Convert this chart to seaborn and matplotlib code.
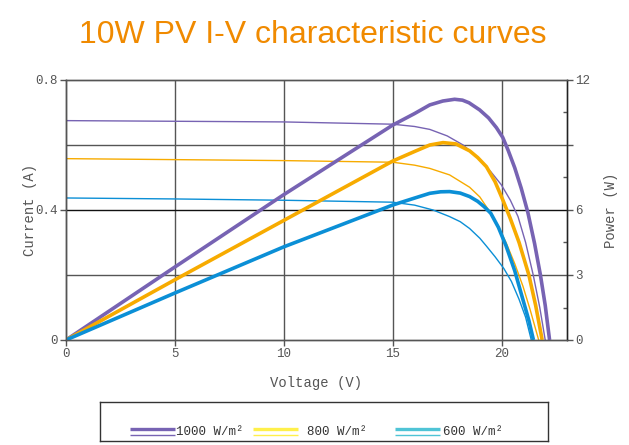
import matplotlib
matplotlib.use("Agg")
import matplotlib.pyplot as plt
import numpy as np
import pandas as pd
import seaborn as sns

# I-V curves (current, A)
v_iv_1000 = [0, 5, 10, 15, 16, 16.7, 17.5, 18.23, 18.99, 19.5, 19.98, 20.4, 20.75, 21.1, 21.45, 21.75, 22.0]
i_1000 = [0.675, 0.673, 0.671, 0.664, 0.657, 0.648, 0.628, 0.600, 0.556, 0.518, 0.478, 0.43, 0.38, 0.30, 0.20, 0.10, 0.0]

v_iv_800 = [0, 5, 10, 15, 16, 16.7, 17.61, 18.53, 19.0, 19.4, 19.8, 20.2, 20.6, 20.98, 21.3, 21.7]
i_800 = [0.558, 0.555, 0.552, 0.547, 0.538, 0.528, 0.508, 0.470, 0.44, 0.40, 0.355, 0.30, 0.235, 0.165, 0.095, 0.0]

v_iv_600 = [0, 5, 10, 15, 16, 16.85, 17.6, 18.1, 18.53, 19.0, 19.3, 19.7, 20.1, 20.45, 20.8, 21.1, 21.36]
i_600 = [0.437, 0.434, 0.430, 0.424, 0.415, 0.400, 0.380, 0.364, 0.343, 0.313, 0.289, 0.256, 0.22, 0.18, 0.125, 0.07, 0.0]

# P-V curves (power, W)
v_pv_1000 = [0, 5, 10, 15, 16.0, 16.7, 17.3, 17.84, 18.2, 18.5, 18.99, 19.4, 19.76, 20.05, 20.3,
             20.6, 20.9, 21.2, 21.51, 21.78, 22.0, 22.2]
p_1000 = [0, 3.37, 6.71, 9.92, 10.45, 10.85, 11.03, 11.11, 11.07, 10.95, 10.62, 10.25, 9.8, 9.35, 8.75,
          7.95, 7.0, 5.9, 4.46, 3.0, 1.6, 0]

v_pv_800 = [0, 5, 10, 15, 16, 16.7, 17.31, 17.9, 18.53, 18.9, 19.3, 19.7, 20.06, 20.4, 20.8, 21.25, 21.56, 21.86]
p_800 = [0, 2.78, 5.52, 8.26, 8.7, 9.0, 9.11, 9.05, 8.73, 8.42, 8.0, 7.3, 6.45, 5.6, 4.5, 3.0, 1.6, 0]

v_pv_600 = [0, 5, 10, 15, 16, 16.7, 17.2, 17.61, 18.1, 18.53, 18.9, 19.2, 19.5, 19.85, 20.2, 20.6, 20.98, 21.25, 21.46]
p_600 = [0, 2.17, 4.3, 6.23, 6.55, 6.77, 6.84, 6.85, 6.78, 6.62, 6.4, 6.15, 5.85, 5.2, 4.35, 3.2, 1.85, 0.9, 0]

labels = ["1000 W/m²", "800 W/m²", "600 W/m²"]
colors = ["#7763b3", "#f7ab00", "#0b8fd6"]
legend_colors = ["#7763b3", "#fff04a", "#4fc4d6"]

sns.set_style("white")
plt.rcParams["font.family"] = ["Liberation Mono", "DejaVu Sans"]

fig = plt.figure(figsize=(6.29, 4.45), dpi=100)
ax = fig.add_axes([66 / 629, 105 / 445, 501 / 629, 260 / 445])
ax2 = ax.twinx()

iv = [(v_iv_1000, i_1000), (v_iv_800, i_800), (v_iv_600, i_600)]
pv = [(v_pv_1000, p_1000), (v_pv_800, p_800), (v_pv_600, p_600)]

for (v, i), c in zip(iv, colors):
    sns.lineplot(x=v, y=i, ax=ax, color=c, linewidth=1.0, sort=False,
                 solid_joinstyle="round")
for (v, p), c in zip(pv, colors):
    sns.lineplot(x=v, y=p, ax=ax2, color=c, linewidth=2.6, sort=False,
                 solid_joinstyle="round", solid_capstyle="butt")

grid_c = "#555555"
ax.set_xlim(0, 23)
ax.set_ylim(0, 0.8)
ax2.set_ylim(0, 12)

ax.set_xticks([0, 5, 10, 15, 20])
ax.set_yticks([0, 0.4, 0.8])
ax.set_yticklabels(["0", "0.4", "0.8"])
for g in [5, 10, 15, 20]:
    ax.axvline(g, color=grid_c, lw=1.0, zorder=0)
for g in [0.2, 0.6]:
    ax.axhline(g, color=grid_c, lw=1.0, zorder=0)
ax.axhline(0.4, color="#111111", lw=1.0, zorder=0)

ax2.set_yticks([0, 3, 6, 9, 12])
ax2.set_yticklabels(["0", "3", "6", "", "12"])
ax2.set_yticks(np.arange(1.5, 12, 3), minor=True)

tick_c = "#555555"
ax.tick_params(axis="both", which="major", direction="out", length=4, width=1,
               color=grid_c, labelcolor=tick_c, labelsize=9, pad=2,
               left=True, bottom=True)
ax2.tick_params(axis="y", which="major", direction="out", length=4, width=1,
                color=grid_c, labelcolor=tick_c, labelsize=9, pad=2, right=True)
ax2.tick_params(axis="y", which="minor", direction="in", length=3, width=1,
                color=grid_c, right=True)

for a in (ax, ax2):
    for s in ["top", "right", "left", "bottom"]:
        a.spines[s].set_visible(True)
        a.spines[s].set_color(grid_c)
        a.spines[s].set_linewidth(1.0)
ax.spines["left"].set_color("#222222")
ax2.spines["right"].set_color("#222222")

ax.set_xlabel("Voltage (V)", fontsize=10, color=tick_c, labelpad=11)
ax.set_ylabel("Current (A)", fontsize=10, color=tick_c, labelpad=-1)
ax2.set_ylabel("Power (W)", fontsize=10, color=tick_c, labelpad=10)

fig.text(0.497, 0.921, "10W PV I-V characteristic curves", ha="center", va="center",
         fontsize=23, color="#f08a00", family="Liberation Sans")

# legend box drawn as its own small axes
leg = fig.add_axes([100 / 629, 4 / 445, 448 / 629, 39 / 445])
leg.set_xlim(100, 548)
leg.set_ylim(441, 402)
leg.set_xticks([])
leg.set_yticks([])
for s in leg.spines.values():
    s.set_visible(True)
    s.set_color("#333333")
    s.set_linewidth(1.0)
starts = [130, 253, 395]
text_x = [176, 307, 443]
for x0, tx, c, lab in zip(starts, text_x, legend_colors, labels):
    leg.plot([x0, x0 + 45], [428.5, 428.5], color=c, lw=2.4, solid_capstyle="butt")
    leg.plot([x0, x0 + 45], [434.5, 434.5], color=c, lw=1.0, solid_capstyle="butt")
    leg.text(tx, 431.5, lab, va="center", ha="left", fontsize=9, color="#333333")

fig.savefig("out.png", dpi=100)
